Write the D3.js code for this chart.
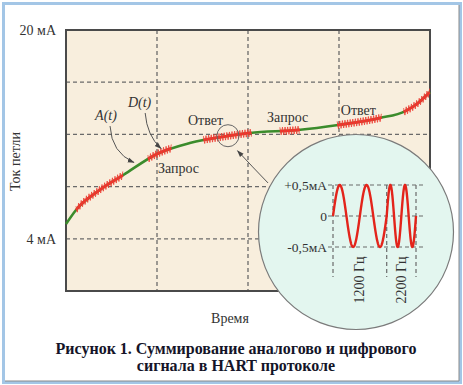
<!DOCTYPE html>
<html><head><meta charset="utf-8">
<script src="https://cdn.jsdelivr.net/npm/d3@7"></script>
<style>body{margin:0;background:#fff}svg{display:block}text{font-family:"Liberation Serif","DejaVu Serif",serif}</style>
</head><body><svg id="c" width="463" height="385"></svg>
<script>
// ---- data ----
const timeT   = [0, 0.11, 0.37, 0.63, 1.0, 1.36, 1.78, 2.02, 2.55, 2.99, 3.45, 3.73, 3.84, 4.0];
const loopMA  = [5.13, 6.21, 7.74, 8.89, 10.5, 11.34, 11.88, 12.11, 12.34, 12.72, 13.26, 13.79, 14.25, 15.25];
const burstStart = [0.11, 0.90, 1.51, 2.35, 2.98, 3.71];
const burstEnd   = [0.63, 1.16, 2.04, 2.57, 3.47, 4.00];
const yTickValues = [4, 20];
const yTickLabels = ["4 мА", "20 мА"];
const xGrid = [1, 2, 3];
const yGrid = [4, 8, 12, 16];
const noteText = ["Запрос", "Ответ", "Запрос", "Ответ"];
const noteT    = [1.01, 1.34, 2.21, 3.02];
const noteMA   = [9.04, 12.75, 12.95, 13.49];
const hartFreqs  = [1200, 2200];
const hartCycles = [2, 2];
const hartAmpVals   = [0.5, 0, -0.5];
const hartAmpLabels = ["+0,5мА", "0", "-0,5мА"];
const caption = ["Рисунок 1. Суммирование аналогово и цифрового", "сигнала в HART протоколе"];

const svg = d3.select("#c");
// outer frame
svg.append("rect").attr("x",3.5).attr("y",3.5).attr("width",457).attr("height",379)
  .attr("fill","#fff").attr("stroke","#a3c6e6").attr("stroke-width",3);
svg.append("path").attr("d","M459,5V381H5").attr("fill","none").attr("stroke","#8a8a8a").attr("stroke-width",1);

const L=66, T=30, R=430, B=291;
const x = d3.scaleLinear().domain([0,4]).range([L,R]);
const y = d3.scaleLinear().domain([0,20]).range([B,T]);

svg.append("rect").attr("x",L).attr("y",T).attr("width",R-L).attr("height",B-T).attr("fill","#f8eedd");
const g = svg.append("g");
g.selectAll(".vg").data(xGrid).join("line").attr("x1",d=>x(d)).attr("x2",d=>x(d)).attr("y1",T).attr("y2",B)
  .attr("stroke","#6a6a6a").attr("stroke-width",1.3).attr("stroke-dasharray","4,3");
g.selectAll(".hg").data(yGrid).join("line").attr("y1",d=>y(d)).attr("y2",d=>y(d)).attr("x1",L).attr("x2",R)
  .attr("stroke","#6a6a6a").attr("stroke-width",1.3).attr("stroke-dasharray","4,3");
svg.append("rect").attr("x",L).attr("y",T).attr("width",R-L).attr("height",B-T).attr("fill","none")
  .attr("stroke","#4a4a4a").attr("stroke-width",2);

// y axis labels
const ya = svg.append("g").attr("transform",`translate(${L-7},0)`)
  .call(d3.axisLeft(y).tickValues(yTickValues).tickSize(0).tickFormat((d,i)=>yTickLabels[i]));
ya.select(".domain").remove();
ya.selectAll("text").attr("font-family","Liberation Serif, serif").attr("font-size",14).attr("fill","#333");

svg.append("text").attr("transform",`translate(20,${(T+B)/2+1}) rotate(-90)`).attr("text-anchor","middle")
  .attr("font-size",14).attr("fill","#333").text("Ток петли");
svg.append("text").attr("x",230).attr("y",323).attr("text-anchor","middle").attr("font-size",14).attr("fill","#333").text("Время");

// analog curve
const pts = timeT.map((t,i)=>[t,loopMA[i]]);
const line = d3.line().x(d=>x(d[0])).y(d=>y(d[1])).curve(d3.curveMonotoneX);
const curve = svg.append("path").attr("d",line(pts)).attr("fill","none").attr("stroke","#3b8c2c").attr("stroke-width",2.6);
// lookup y by x
const node = curve.node(), len = node.getTotalLength();
const samp = d3.range(0,len+0.5,0.5).map(l=>node.getPointAtLength(Math.min(l,len)));
const bis = d3.bisector(p=>p.x).left;
function yAt(px){const i=Math.max(1,Math.min(samp.length-1,bis(samp,px)));const a=samp[i-1],b=samp[i];
  const f=(px-a.x)/((b.x-a.x)||1);return a.y+(b.y-a.y)*f;}

// digital bursts
burstStart.forEach((s,k)=>{
  const x0=x(s), x1=x(burstEnd[k]);
  const core=[], zig=[];
  for(let px=x0; px<=x1; px+=0.5){ core.push([px,yAt(px)]); }
  let i=0;
  for(let px=x0; px<=x1; px+=1.3){ zig.push([px, yAt(px)+(i%2?3.8:-3.8)]); i++; }
  svg.append("path").attr("d",d3.line()(core)).attr("fill","none").attr("stroke","#e8332b").attr("stroke-width",2.6);
  svg.append("path").attr("d",d3.line()(zig)).attr("fill","none").attr("stroke","#ee3a30").attr("stroke-width",0.9).attr("opacity",0.9);
});

// notes
svg.selectAll(".note").data(noteText).join("text").attr("x",(d,i)=>x(noteT[i])).attr("y",(d,i)=>y(noteMA[i]))
  .attr("font-size",14).attr("fill","#333").text(d=>d);
svg.append("text").attr("x",x(0.32)).attr("y",y(13.1)).attr("font-size",14).attr("font-style","italic").attr("fill","#333").text("A(t)");
svg.append("text").attr("x",x(0.68)).attr("y",y(14.1)).attr("font-size",14).attr("font-style","italic").attr("fill","#333").text("D(t)");

// arrow marker
svg.append("defs").append("marker").attr("id","ah").attr("viewBox","0 0 10 10").attr("refX",9).attr("refY",5)
  .attr("markerWidth",7).attr("markerHeight",7).attr("orient","auto")
  .append("path").attr("d","M0,1.5L10,5L0,8.5Z").attr("fill","#444");
function arrow(a,c,b){
  svg.append("path").attr("d",`M${x(a[0])},${y(a[1])}Q${x(c[0])},${y(c[1])} ${x(b[0])},${y(b[1])}`)
    .attr("fill","none").attr("stroke","#555").attr("stroke-width",1).attr("marker-end","url(#ah)");
}
arrow([0.484,12.64],[0.50,10.6],[0.747,9.85]);
arrow([0.87,13.64],[0.89,11.9],[1.044,10.92]);

// zoom circle
svg.append("circle").attr("cx",x(1.78)).attr("cy",y(11.9)).attr("r",11).attr("fill","none").attr("stroke","#666").attr("stroke-width",1);
arrow([2.22,8.28],[2.05,9.5],[1.885,10.75]);

// big circle
const cx=356, cy=232, cr=97.5;
svg.append("circle").attr("cx",cx).attr("cy",cy).attr("r",cr).attr("fill","#e3f6ef").attr("stroke","#7a7a7a").attr("stroke-width",1.2);

// mini chart
const periods = hartFreqs.map((f,i)=>hartCycles[i]*1000/f);
const tEdge = [0, periods[0], periods[0]+periods[1]];
const mx = d3.scaleLinear().domain([0,tEdge[2]]).range([333,416]);
const my = d3.scaleLinear().domain([-0.5,0.5]).range([247,185]);
svg.selectAll(".mh").data(hartAmpVals).join("line").attr("x1",328).attr("x2",423).attr("y1",d=>my(d)).attr("y2",d=>my(d))
  .attr("stroke","#6a6a6a").attr("stroke-width",1.2).attr("stroke-dasharray","4,3");
svg.selectAll(".mv").data(tEdge).join("line").attr("x1",d=>mx(d)).attr("x2",d=>mx(d)).attr("y1",my(0.5)).attr("y2",277)
  .attr("stroke","#6a6a6a").attr("stroke-width",1.2).attr("stroke-dasharray","4,3");
const wave=[];
for(let t=0;t<=tEdge[2]+1e-9;t+=tEdge[2]/400){
  let v; if(t<=periods[0]) v=0.5*Math.sin(2*Math.PI*hartFreqs[0]*t/1000);
  else v=0.5*Math.sin(2*Math.PI*hartFreqs[1]*(t-periods[0])/1000);
  wave.push([mx(t),my(v)]);
}
svg.append("path").attr("d",d3.line()(wave)).attr("fill","none").attr("stroke","#e3241b").attr("stroke-width",2.4);
svg.selectAll(".ml").data(hartAmpLabels).join("text").attr("x",327).attr("y",(d,i)=>my(hartAmpVals[i])+4.5)
  .attr("text-anchor","end").attr("font-size",13.5).attr("fill","#333").text(d=>d);
hartFreqs.forEach((f,i)=>{
  const xm=(mx(tEdge[i])+mx(tEdge[i+1]))/2+4.5;
  svg.append("text").attr("transform",`translate(${xm},280) rotate(-90)`).attr("text-anchor","middle")
    .attr("font-size",14).attr("fill","#333").text(f+" Гц");
});

// caption
svg.selectAll(".cap").data(caption).join("text").attr("x",236).attr("y",(d,i)=>354+i*16.5).attr("text-anchor","middle")
  .attr("font-size",16).attr("font-weight","bold").attr("fill","#141428").text(d=>d);
</script></body></html>
